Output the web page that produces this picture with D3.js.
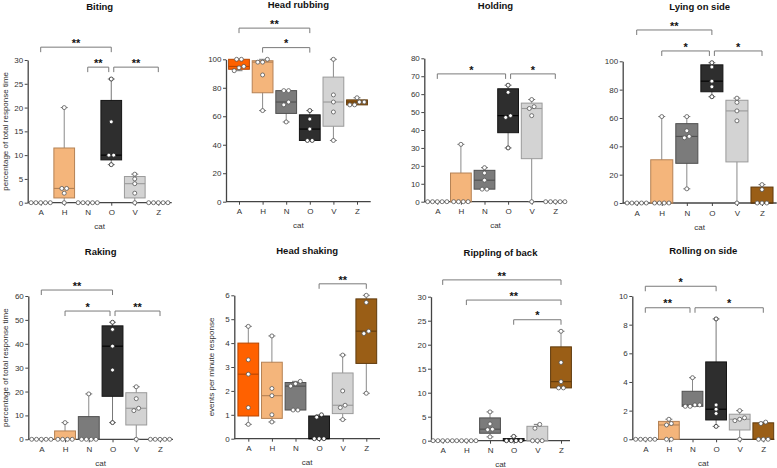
<!DOCTYPE html>
<html>
<head>
<meta charset="utf-8">
<script src="https://cdn.jsdelivr.net/npm/d3@7"></script>
<style>
  html, body { margin: 0; padding: 0; background: #fff; }
  svg { display: block; font-family: "Liberation Sans", Arial, sans-serif; }
</style>
</head>
<body>
<svg id="chart" width="777" height="468"></svg>
<script>
// ---------------- DATA ----------------
const categories = ["A", "H", "N", "O", "V", "Z"];
const panelTitles = ["Biting", "Head rubbing", "Holding", "Lying on side",
                     "Raking", "Head shaking", "Rippling of back", "Rolling on side"];
const yMaxes = [30, 100, 80, 100, 60, 6, 30, 10];
const yTickSteps = [5, 20, 10, 20, 10, 1, 5, 2];
const yAxisLabels = ["percentage of total response time", "", "", "",
                     "percentage of total response time", "events per minute response", "", ""];
const xAxisLabel = "cat";

// individual values per category (A, H, N, O, V, Z)
const biting        = [[0,0,0,0,0],[0,2,3,3,20],[0,0,0,0,0],[8,10,10,17,26],[0,2,4,5,6],[0,0,0,0,0]];
const headRubbing   = [[92,94,95,100,100],[64,89,98,98,100],[56,68,70,78,78],[43,43,51,58,64],[43,63,70,75,100],[68,68,70,70,73]];
const holding       = [[0,0,0,0,0],[0,0,0,0,32],[7,7,12,16,19],[30,47,48,61,65],[0,48,52,53,57],[0,0,0,0,0]];
const lyingOnSide   = [[0,0,0,0,0],[0,0,0,0,61],[10,46,47,51,61],[75,82,86,96,99],[0,58,65,71,74],[0,0,0,9.5,13]];
const raking        = [[0,0,0,0,0],[0,0,0,0,7],[0,0,0,0,19],[7,29,39,46,49],[0,12,13,17,22],[0,0,0,0,0]];
const headShaking   = [[0.6,1.3,2.7,3.3,4.7],[0.7,1.0,1.8,2.1,4.3],[1.2,1.2,2.2,2.3,2.4],[0,0,0,0.9,1.0],[0.8,1.3,1.4,2.0,3.5],[1.9,4.4,4.5,5.7,6.0]];
const ripplingOfBack= [[0,0,0,0,0],[0,0,0,0,0],[0.8,2.3,2.4,3.5,6.0],[0,0,0,0,0.9],[0,0,0,2.6,3.4],[11,11,12.3,16.3,22.8]];
const rollingOnSide = [[0,0,0,0,0],[0,0,1.0,1.1,1.4],[2.3,2.3,2.4,2.4,4.3],[0.9,1.8,2.1,2.4,8.4],[0,1.3,1.4,1.5,2.0],[0,0,0,1.1,1.2]];

// significance brackets: [from, to, label, height (data units)]
const bitingSig   = [["A","O","**",32.7],["N","O","**",28.5],["O","Z","**",28.5]];
const rubbingSig  = [["A","O","**",121.9],["H","O","*",108.2]];
const holdingSig  = [["A","O","*",71.3],["O","Z","*",71.3]];
const lyingSig    = [["A","O","**",122.1],["H","O","*",107.3],["O","Z","*",107.3]];
const rakingSig   = [["A","O","**",62.5],["H","O","*",53.7],["O","Z","**",53.7]];
const shakingSig  = [["O","Z","**",6.48]];
const ripplingSig = [["A","Z","**",33.5],["H","Z","**",29.3],["O","Z","*",25.2]];
const rollingSig  = [["A","O","*",10.68],["A","N","**",9.18],["N","Z","*",9.18]];

const panelValues = [biting, headRubbing, holding, lyingOnSide, raking, headShaking, ripplingOfBack, rollingOnSide];
const panelSigs = [bitingSig, rubbingSig, holdingSig, lyingSig, rakingSig, shakingSig, ripplingSig, rollingSig];

// ---------------- STYLE / LAYOUT ----------------
const fills   = ["#FF6100", "#F4B57B", "#7B7B7B", "#2E2E2E", "#D3D3D3", "#9A5E16"];
const strokes = ["#B84600", "#B58255", "#505050", "#151515", "#9A9A9A", "#603A0C"];

// ax: y-axis x, a/z: first/last category centre, end: x-axis end, y0: zero line, y1: top tick, ty: title baseline, lx: y-label centre x
const layout = [
  {ax: 27.7,  a: 40.7,  z: 158.3, end: 171.7, y0: 202.7, y1: 60,    ty: 9.5,   lx: 5.5},
  {ax: 226,   a: 239,   z: 357,   end: 370.7, y0: 201.7, y1: 59.3,  ty: 7.5,   lx: 0},
  {ax: 424.3, a: 437.3, z: 555.3, end: 566.7, y0: 201.7, y1: 58.3,  ty: 8.5,   lx: 0},
  {ax: 622.7, a: 636.7, z: 762,   end: 776.7, y0: 203,   y1: 61.3,  ty: 10,    lx: 0},
  {ax: 28.3,  a: 41.3,  z: 160,   end: 173,   y0: 439.3, y1: 296,   ty: 254.8, lx: 5.5},
  {ax: 234.3, a: 248.3, z: 366.3, end: 380,   y0: 438.7, y1: 295.3, ty: 254,   lx: 211.5},
  {ax: 431,   a: 442.7, z: 561,   end: 570,   y0: 440.7, y1: 296.7, ty: 255.8, lx: 0},
  {ax: 632.3, a: 645.3, z: 763.3, end: 774.3, y0: 439.3, y1: 296,   ty: 254,   lx: 0}
];

const svg = d3.select("#chart");
const axisColor = "#444";

function quartiles(vals) {
  const s = vals.slice().sort((a, b) => a - b);
  const n = s.length;
  const h = Math.floor(n / 2);
  const med = d3.median(s);
  const q1 = d3.median(s.slice(0, h));
  const q3 = d3.median(s.slice(n - h));
  return {min: s[0], max: s[n - 1], q1, q3, med};
}

panelTitles.forEach((title, i) => {
  const L = layout[i];
  const g = svg.append("g");
  const y = d3.scaleLinear().domain([0, yMaxes[i]]).range([L.y0, L.y1]);
  const x = d3.scalePoint().domain(categories).range([L.a, L.z]);
  const step = x.step();
  const bw = step * 0.88;
  const cap = 7;

  // title
  g.append("text").attr("x", (L.ax + L.end) / 2).attr("y", L.ty)
    .attr("text-anchor", "middle").attr("font-weight", "bold")
    .attr("font-size", 9.5).attr("fill", "#111").text(title);

  // y axis
  const ticks = d3.range(0, yMaxes[i] + 1e-9, yTickSteps[i]);
  const ya = g.append("g").attr("transform", `translate(${L.ax},0)`)
    .call(d3.axisLeft(y).tickValues(ticks).tickSize(3).tickSizeOuter(0).tickPadding(1.5).tickFormat(d3.format("d")));
  ya.select(".domain").attr("stroke", axisColor).attr("stroke-width", 1.3);
  ya.selectAll(".tick line").attr("stroke", axisColor).attr("stroke-width", 1);
  ya.selectAll(".tick text").attr("font-size", 8).attr("fill", "#333")
    .attr("font-family", "Liberation Sans, Arial, sans-serif");

  // x axis
  const xa = g.append("g").attr("transform", `translate(0,${L.y0})`)
    .call(d3.axisBottom(x).tickSize(3).tickSizeOuter(0).tickPadding(4));
  xa.select(".domain").remove();
  xa.selectAll(".tick line").attr("stroke", axisColor).attr("stroke-width", 1);
  xa.selectAll(".tick text").attr("font-size", 8).attr("fill", "#333")
    .attr("font-family", "Liberation Sans, Arial, sans-serif");
  g.append("line").attr("x1", L.ax).attr("x2", L.end).attr("y1", L.y0).attr("y2", L.y0)
    .attr("stroke", axisColor).attr("stroke-width", 1.3);

  // x label
  g.append("text").attr("x", (L.ax + L.end) / 2).attr("y", L.y0 + 26.5)
    .attr("text-anchor", "middle").attr("font-size", 8).attr("fill", "#333").text(xAxisLabel);

  // y label
  if (yAxisLabels[i]) {
    g.append("text")
      .attr("transform", `translate(${L.lx},${(L.y0 + L.y1) / 2}) rotate(-90)`)
      .attr("text-anchor", "middle").attr("dominant-baseline", "central")
      .attr("font-size", 8).attr("fill", "#333").text(yAxisLabels[i]);
  }

  // boxes
  const vals = panelValues[i];
  categories.forEach((c, k) => {
    const st = quartiles(vals[k]);
    const cx = x(c);
    const bg = g.append("g");
    bg.append("line").attr("x1", cx).attr("x2", cx).attr("y1", y(st.min)).attr("y2", y(st.max))
      .attr("stroke", strokes[k] === "#151515" ? "#777" : "#8a8a8a").attr("stroke-width", 1);
    if (st.q3 > st.q1) {
      bg.append("rect").attr("x", cx - bw / 2).attr("width", bw)
        .attr("y", y(st.q3)).attr("height", y(st.q1) - y(st.q3))
        .attr("fill", fills[k]).attr("stroke", strokes[k]).attr("stroke-width", 1);
      bg.append("line").attr("x1", cx - bw / 2).attr("x2", cx + bw / 2)
        .attr("y1", y(st.med)).attr("y2", y(st.med))
        .attr("stroke", k === 3 ? "#000" : strokes[k]).attr("stroke-width", 1.1);
    }
    if (st.max > st.q3) {
      bg.append("line").attr("x1", cx - cap / 2).attr("x2", cx + cap / 2)
        .attr("y1", y(st.max)).attr("y2", y(st.max)).attr("stroke", "#777").attr("stroke-width", 1);
    }
    if (st.min < st.q1) {
      bg.append("line").attr("x1", cx - cap / 2).attr("x2", cx + cap / 2)
        .attr("y1", y(st.min)).attr("y2", y(st.min)).attr("stroke", "#777").attr("stroke-width", 1);
    }

    // points (simple beeswarm by vertical clusters)
    const s = vals[k].slice().sort((a, b) => a - b);
    const clusters = [];
    s.forEach(v => {
      const py = y(v);
      const last = clusters[clusters.length - 1];
      if (last && Math.abs(y(last[last.length - 1]) - py) < 4.2) last.push(v);
      else clusters.push([v]);
    });
    const sp = 4.8;
    clusters.forEach(cl => {
      cl.forEach((v, j) => {
        const off = (j - (cl.length - 1) / 2) * sp;
        bg.append("circle").attr("cx", cx + off).attr("cy", y(v)).attr("r", 2)
          .attr("fill", "#fff").attr("stroke", k === 3 ? "#222" : "#555").attr("stroke-width", 0.8);
      });
    });
  });

  // significance brackets
  const sigs = panelSigs[i];
  sigs.forEach(([from, to, lab, h]) => {
    let x1 = x(from), x2 = x(to);
    sigs.forEach(o => {
      if (o[3] === h && o[1] === from) x1 += 2.5;
      if (o[3] === h && o[0] === to) x2 -= 2.5;
    });
    const yy = y(h);
    g.append("path")
      .attr("d", `M${x1},${yy + 5}V${yy}H${x2}V${yy + 5}`)
      .attr("fill", "none").attr("stroke", "#7a7a7a").attr("stroke-width", 1);
    g.append("text").attr("x", (x1 + x2) / 2).attr("y", yy - 0.3)
      .attr("text-anchor", "middle").attr("font-size", 11).attr("font-weight", "bold")
      .attr("fill", "#111").text(lab);
  });
});
</script>
</body>
</html>
